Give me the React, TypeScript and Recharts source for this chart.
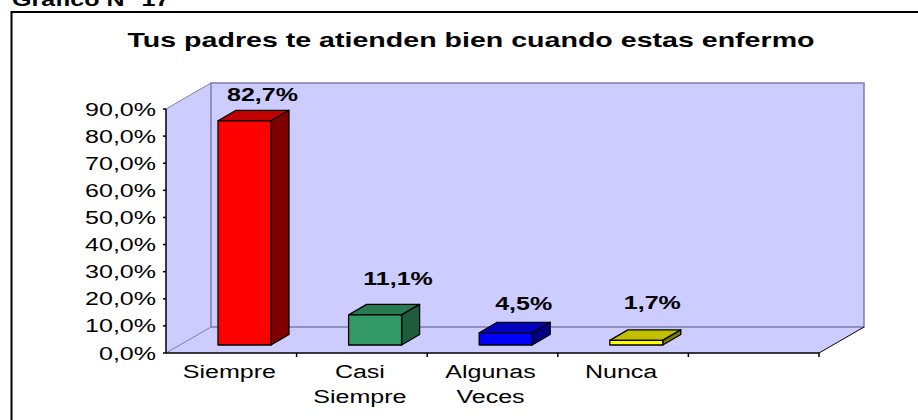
import { BarChart, Bar, XAxis, YAxis, ReferenceArea, LabelList } from "recharts";

const categories = ["Siempre", "Casi Siempre", "Algunas Veces", "Nunca", ""];
const percentages = [82.7, 11.1, 4.5, 1.7, null];
const yTicks = [0, 10, 20, 30, 40, 50, 60, 70, 80, 90];

const frontColors = ["#ff0000", "#339966", "#0000ff", "#ffff00"];
const topColors = ["#c00000", "#287a51", "#0000c0", "#c0c000"];
const sideColors = ["#800000", "#1f5c3d", "#000080", "#808000"];

// the data labels were placed by hand in the original, so each has its own nudge
const labelNudgeX = [18, 23, 18, 16];
const labelNudgeY = [-20, -30, -23, -31];

const chartData = categories.map((name, i) => ({ name, value: percentages[i] }));

const WIDTH = 918;
const HEIGHT = 420;
const STRETCH = 1.39; // the source image is wider than it should be
const BAND = 653 / 5;
const DEPTH_X = 45;
const DEPTH_Y = 26;
const BAR_SHIFT_X = 13;
const BAR_SHIFT_Y = 8;
const BAR_DEPTH_X = 18;
const BAR_DEPTH_Y = 10.5;
const WALL = "#ccccff";
const WALL_LINE = "#7c7cb0";

function Stretched({ x, y, bold, anchor, size = 18, children }: any) {
  return (
    <text
      transform={`translate(${x},${y}) scale(${STRETCH},1)`}
      textAnchor={anchor}
      fontFamily="Liberation Sans"
      fontSize={size}
      fontWeight={bold ? "bold" : "normal"}
      fill="#000"
    >
      {children}
    </text>
  );
}

function Walls({ x, y, width, height }: any) {
  const right = x + width;
  const bottom = y + height;
  const backLeft = x + DEPTH_X;
  const backRight = right + DEPTH_X;
  const backTop = y - DEPTH_Y;
  const backBottom = bottom - DEPTH_Y;
  return (
    <g>
      <polygon points={`${x},${y} ${backLeft},${backTop} ${backLeft},${backBottom} ${x},${bottom}`} fill={WALL} />
      <rect x={backLeft} y={backTop} width={width} height={height} fill={WALL} />
      <polygon points={`${x},${bottom} ${backLeft},${backBottom} ${backRight},${backBottom} ${right},${bottom}`} fill={WALL} />
      <rect x={backLeft} y={backTop} width={width} height={height} fill="none" stroke={WALL_LINE} strokeWidth={1.5} />
      <line x1={x} y1={y} x2={backLeft} y2={backTop} stroke={WALL_LINE} />
      <line x1={x} y1={bottom} x2={backLeft} y2={backBottom} stroke={WALL_LINE} />
      <line x1={right} y1={bottom} x2={backRight} y2={backBottom} stroke="#000" />
    </g>
  );
}

function Box3D({ x, y, width, height, index }: any) {
  const left = x + BAR_SHIFT_X;
  const top = y - BAR_SHIFT_Y;
  const right = left + width;
  const bottom = top + height;
  return (
    <g stroke="#000" strokeWidth={1.3} strokeLinejoin="round">
      <polygon
        points={`${left},${top} ${left + BAR_DEPTH_X},${top - BAR_DEPTH_Y} ${right + BAR_DEPTH_X},${top - BAR_DEPTH_Y} ${right},${top}`}
        fill={topColors[index]}
      />
      <polygon
        points={`${right},${top} ${right + BAR_DEPTH_X},${top - BAR_DEPTH_Y} ${right + BAR_DEPTH_X},${bottom - BAR_DEPTH_Y} ${right},${bottom}`}
        fill={sideColors[index]}
      />
      <rect x={left} y={top} width={width} height={height} fill={frontColors[index]} />
    </g>
  );
}

function BarLabel({ x, y, width, value, index }: any) {
  if (value == null) return null;
  return (
    <Stretched
      x={x + width / 2 + BAR_SHIFT_X + labelNudgeX[index]}
      y={y - BAR_SHIFT_Y + labelNudgeY[index]}
      anchor="middle"
      bold
    >
      {value.toFixed(1).replace(".", ",") + "%"}
    </Stretched>
  );
}

function YTick({ x, y, payload }: any) {
  return (
    <Stretched x={x} y={y + 6.5} anchor="end">
      {payload.value.toFixed(1).replace(".", ",") + "%"}
    </Stretched>
  );
}

function XTick({ x, y, payload }: any) {
  const edge = x + BAND / 2;
  const words = payload.value ? payload.value.split(" ") : [];
  return (
    <g>
      <line x1={edge} y1={y - 8} x2={edge} y2={y - 4} stroke="#000" strokeWidth={1.5} />
      {words.map((w: string, i: number) => (
        <Stretched key={w} x={x - 2} y={y + 17 + i * 25} anchor="middle">
          {w}
        </Stretched>
      ))}
    </g>
  );
}

export default function App() {
  return (
    <div style={{ position: "absolute", left: 0, top: 0, width: WIDTH, height: HEIGHT }}>
      <BarChart
        width={WIDTH}
        height={HEIGHT}
        data={chartData}
        margin={{ top: 109, right: 99, bottom: 0, left: 106 }}
      >
        <path d={`M${WIDTH} 12 H11.5 V${HEIGHT}`} fill="none" stroke="#000" strokeWidth={2} />
        <Stretched x={12} y={6} anchor="start" bold>
          Gráfico N° 17
        </Stretched>
        <text
          x={471}
          y={47}
          textAnchor="middle"
          fontFamily="Liberation Sans"
          fontSize={21}
          fontWeight="bold"
          textLength={687}
          lengthAdjust="spacingAndGlyphs"
        >
          Tus padres te atienden bien cuando estas enfermo
        </text>
        <ReferenceArea y1={0} y2={90} ifOverflow="visible" shape={Walls} />
        <XAxis
          dataKey="name"
          interval={0}
          height={67}
          tickLine={false}
          tick={<XTick />}
          axisLine={{ stroke: "#000", strokeWidth: 1.5 }}
        />
        <YAxis
          width={60}
          domain={[0, 90]}
          ticks={yTicks}
          interval={0}
          tickSize={3}
          tickMargin={7}
          tick={<YTick />}
          tickLine={{ stroke: "#000", strokeWidth: 1.5 }}
          axisLine={{ stroke: "#000", strokeWidth: 1.5 }}
        />
        <Bar dataKey="value" barSize={53} shape={<Box3D />} isAnimationActive={false}>
          <LabelList dataKey="value" content={<BarLabel />} />
        </Bar>
      </BarChart>
    </div>
  );
}
